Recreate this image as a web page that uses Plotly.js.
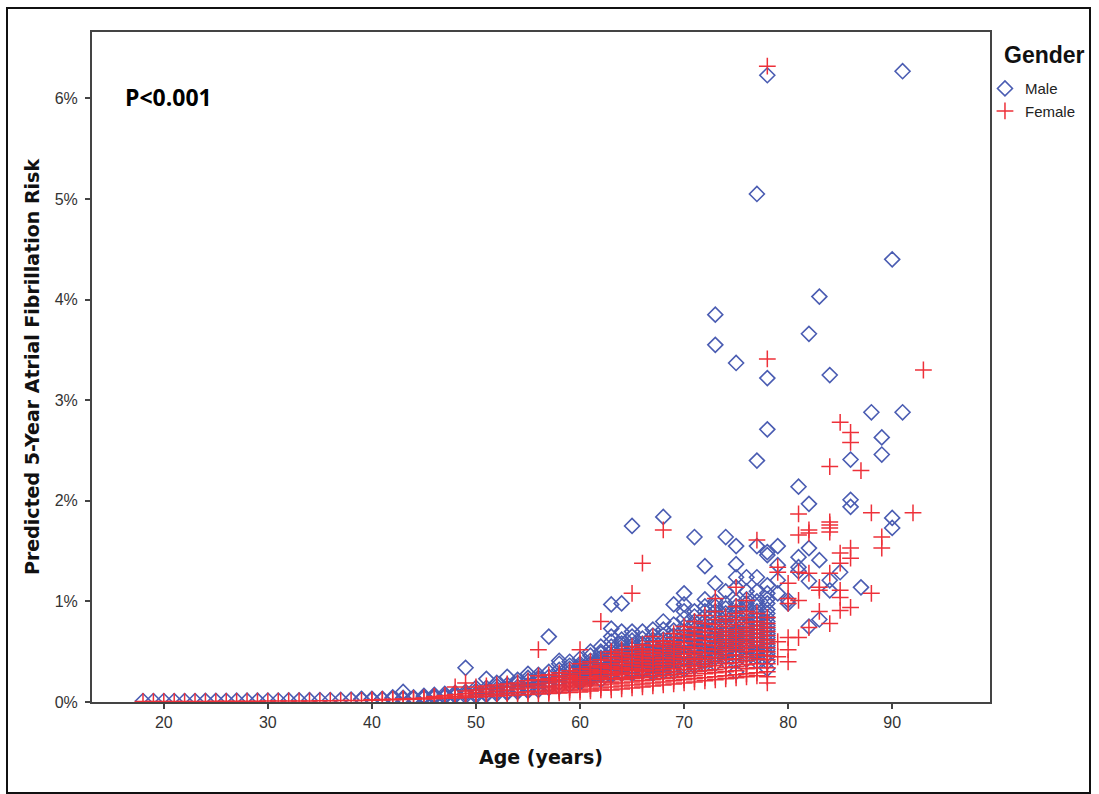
<!DOCTYPE html>
<html>
<head>
<meta charset="utf-8">
<script src="https://cdn.plot.ly/plotly-3.0.1.min.js"></script>
<style>
  html, body { margin: 0; padding: 0; background: #fff; }
  #chart { width: 1099px; height: 794px; }
  #frame { position: absolute; left: 6px; top: 7px; width: 1085px; height: 787px;
           border: 2px solid #111; box-sizing: border-box; pointer-events: none; }
</style>
</head>
<body>
<div id="chart"></div>
<div id="frame"></div>
<script>
// ---- Data (risk values in %) ----
const maleAges = [18,19,20,21,22,23,24,25,26,27,28,29,30,31,32,33,34,35,36,37,38,39,40,41,42,43,44,45,46,47,48,49,
  50,51,52,53,54,55,56,57,58,59,60,61,62,63,64,65,66,67,68,69,70,71,72,73,74,75,76,77,78,79,80,81,82,83,84,85,86,87,88,89,90,91];
const maleRisks = [
  [0.01],[0.01],[0.01],[0.01],[0.01],[0.01],[0.012],[0.012],[0.012],[0.013],[0.013],[0.014],[0.015],[0.015],[0.016],
  [0.017],[0.018],[0.02],[0.02],[0.022],[0.024],[0.026,0.03],[0.03,0.025],[0.032,0.027],[0.035,0.045],[0.1,0.04,0.03],
  [0.045,0.035],[0.05,0.04,0.06],[0.055,0.045,0.07],[0.06,0.05,0.08],[0.07,0.06,0.09],[0.34,0.08,0.06,0.1],
  [0.08,0.06,0.11,0.14],
  [0.23,0.08,0.11,0.14,0.07],
  [0.1,0.13,0.16,0.08,0.19],
  [0.25,0.1,0.14,0.17,0.09],
  [0.12,0.15,0.19,0.1,0.22],
  [0.28,0.13,0.17,0.21,0.11,0.24],
  [0.24,0.15,0.19,0.22,0.12,0.27],
  [0.65,0.17,0.21,0.25,0.14,0.3],
  [0.41,0.38,0.19,0.23,0.27,0.15,0.32],
  [0.4,0.36,0.21,0.25,0.3,0.17,0.33],
  [0.38,0.3,0.24,0.28,0.19,0.34,0.43,0.2,0.22,0.26,0.31,0.36],
  [0.46,0.36,0.29,0.22,0.32,0.41,0.25,0.24,0.27,0.34,0.38,0.5],
  [0.55,0.48,0.4,0.33,0.26,0.36,0.44,0.3,0.22,0.28,0.32,0.38,0.42,0.5],
  [0.97,0.73,0.6,0.5,0.42,0.36,0.3,0.26,0.46,0.28,0.33,0.39,0.44,0.55,0.65],
  [0.98,0.58,0.52,0.46,0.4,0.34,0.28,0.5,0.38,0.3,0.36,0.43,0.55,0.62,0.7],
  [1.75,0.7,0.61,0.53,0.45,0.38,0.32,0.28,0.56,0.42,0.3,0.35,0.4,0.48,0.65],
  [0.63,0.55,0.48,0.42,0.36,0.3,0.51,0.4,0.33,0.32,0.38,0.45,0.58,0.7],
  [0.66,0.58,0.5,0.45,0.38,0.32,0.28,0.55,0.42,0.35,0.3,0.36,0.4,0.48,0.62,0.72],
  [1.84,0.72,0.62,0.55,0.48,0.42,0.36,0.3,0.5,0.4,0.33,0.38,0.45,0.58,0.66,0.8],
  [0.97,0.77,0.71,0.62,0.55,0.48,0.42,0.36,0.3,0.52,0.45,0.33,0.4,0.5,0.58,0.66],
  [1.08,0.97,0.83,0.75,0.66,0.58,0.5,0.44,0.38,0.32,0.6,0.35,0.42,0.48,0.55,0.7,0.9],
  [1.64,0.9,0.8,0.72,0.64,0.56,0.5,0.44,0.38,0.62,0.35,0.42,0.48,0.54,0.6,0.68,0.76,0.85],
  [1.35,1.02,0.95,0.85,0.76,0.68,0.6,0.52,0.46,0.4,0.7,0.37,0.43,0.5,0.56,0.64,0.72,0.8,0.9],
  [3.85,3.55,1.18,1.0,0.9,0.8,0.72,0.64,0.56,0.5,0.44,0.75,0.38,0.47,0.53,0.6,0.68,0.85,0.95],
  [1.64,1.1,0.98,0.88,0.8,0.72,0.64,0.56,0.5,0.45,0.76,0.4,0.48,0.53,0.6,0.68,0.84,0.93],
  [3.37,1.55,1.37,1.24,1.14,1.0,0.9,0.8,0.72,0.64,0.56,0.48,0.7,0.3,0.4,0.45,0.52,0.6,0.68,0.76,0.85,0.95],
  [1.24,1.1,0.98,0.88,0.8,0.72,0.64,0.56,0.5,0.85,0.42,0.47,0.54,0.6,0.68,0.76,0.93,1.02],
  [5.05,2.4,1.55,1.24,1.1,1.0,0.9,0.82,0.74,0.66,0.58,0.5,0.45,0.4,0.48,0.54,0.62,0.7,0.78,0.86,0.95],
  [6.23,3.22,2.71,1.49,1.46,1.16,1.02,0.92,0.84,0.76,0.68,0.6,0.52,0.45,0.33,0.4,0.48,0.56,0.64,0.72,0.8,0.88,0.98,1.08],
  [1.55,1.36,1.21,1.08],
  [1.01,0.98],
  [2.14,1.44,1.34,1.3],
  [3.66,1.97,1.53,1.2,0.75],
  [4.03,1.41,0.82],
  [3.25,1.21,1.11],
  [1.29],
  [2.41,2.01,1.94],
  [1.14],
  [2.88],
  [2.63,2.46],
  [4.4,1.83,1.73],
  [6.27,2.88]
];

const femaleAges = [18,19,20,21,22,23,24,25,26,27,28,29,30,31,32,33,34,35,36,37,38,39,40,41,42,43,44,45,46,47,48,49,
  50,51,52,53,54,55,56,57,58,59,60,61,62,63,64,65,66,67,68,69,70,71,72,73,74,75,76,77,78,79,80,81,82,83,84,85,86,87,88,89,92,93];
const femaleRisks = [
  [0.005],[0.005],[0.005],[0.005],[0.006],[0.006],[0.006],[0.007],[0.007],[0.007],[0.008],[0.008],[0.009],[0.009],
  [0.01],[0.01],[0.011],[0.012],[0.013],[0.014],[0.015],[0.016],[0.018,0.022],[0.02,0.025],[0.022,0.028],[0.025,0.03],
  [0.027,0.035],[0.03,0.04],[0.033,0.045,0.055],[0.037,0.05,0.065],[0.15,0.04,0.055,0.075],[0.19,0.045,0.06,0.085,0.11],
  [0.05,0.07,0.095,0.12,0.15],
  [0.055,0.075,0.1,0.13,0.16],
  [0.06,0.08,0.11,0.14,0.17],
  [0.065,0.09,0.12,0.15,0.18],
  [0.07,0.095,0.13,0.16,0.19],
  [0.075,0.1,0.14,0.17,0.21],
  [0.52,0.08,0.11,0.15,0.18,0.22,0.26],
  [0.085,0.12,0.16,0.19,0.23,0.27,0.1,0.14,0.21],
  [0.09,0.13,0.17,0.2,0.24,0.29,0.11,0.15,0.22,0.26],
  [0.095,0.14,0.18,0.22,0.26,0.31,0.12,0.16,0.2,0.24,0.28],
  [0.52,0.1,0.15,0.19,0.23,0.28,0.33,0.38,0.12,0.17,0.21,0.25,0.3],
  [0.11,0.16,0.2,0.25,0.3,0.35,0.4,0.13,0.18,0.23,0.28,0.32],
  [0.8,0.12,0.17,0.22,0.26,0.31,0.36,0.42,0.14,0.2,0.24,0.29,0.34,0.38],
  [0.12,0.18,0.23,0.28,0.33,0.38,0.44,0.5,0.15,0.2,0.26,0.3,0.35,0.41,0.47],
  [0.13,0.19,0.24,0.29,0.34,0.4,0.46,0.52,0.16,0.22,0.27,0.32,0.37,0.43,0.49],
  [1.08,0.14,0.2,0.25,0.31,0.36,0.42,0.48,0.55,0.17,0.23,0.28,0.33,0.39,0.45,0.52],
  [1.38,0.15,0.21,0.27,0.32,0.38,0.44,0.5,0.57,0.18,0.24,0.3,0.35,0.41,0.47,0.53],
  [0.65,0.16,0.22,0.28,0.34,0.4,0.46,0.52,0.6,0.19,0.25,0.31,0.37,0.43,0.49,0.56],
  [1.71,0.61,0.17,0.23,0.29,0.35,0.41,0.48,0.55,0.2,0.26,0.32,0.38,0.44,0.51,0.58],
  [0.18,0.24,0.3,0.37,0.43,0.5,0.57,0.64,0.21,0.27,0.33,0.4,0.46,0.53,0.6,0.68],
  [0.19,0.25,0.32,0.38,0.45,0.52,0.59,0.67,0.75,0.22,0.28,0.35,0.42,0.48,0.55,0.63,0.71],
  [0.2,0.26,0.33,0.4,0.47,0.54,0.62,0.7,0.8,0.23,0.3,0.36,0.43,0.5,0.58,0.66,0.74],
  [0.21,0.28,0.35,0.42,0.49,0.57,0.65,0.73,0.86,0.24,0.31,0.38,0.45,0.53,0.61,0.69,0.78],
  [1.03,0.22,0.29,0.36,0.44,0.52,0.6,0.68,0.77,0.9,0.25,0.32,0.4,0.48,0.56,0.64,0.72,0.82],
  [0.23,0.3,0.38,0.46,0.54,0.62,0.7,0.8,0.26,0.34,0.42,0.5,0.58,0.66,0.75,0.85],
  [1.14,0.24,0.31,0.39,0.47,0.56,0.64,0.72,0.82,0.95,0.27,0.35,0.43,0.52,0.6,0.68,0.77,0.88],
  [1.01,0.25,0.33,0.41,0.5,0.58,0.66,0.74,0.84,0.28,0.37,0.45,0.54,0.62,0.7,0.79,0.9],
  [1.61,0.26,0.34,0.43,0.51,0.6,0.68,0.76,0.29,0.38,0.47,0.56,0.64,0.72,0.8,0.88],
  [6.32,3.41,0.19,0.3,0.38,0.46,0.54,0.62,0.7,0.78,0.25,0.34,0.42,0.5,0.58,0.66,0.74,0.84],
  [1.34,1.29,0.6,0.45],
  [1.18,1.03,0.98,0.64,0.52,0.4],
  [1.87,1.66,1.29,1.01,0.64],
  [1.71,1.68,1.28,0.74],
  [1.14,1.11,0.9],
  [2.34,1.79,1.76,1.73,1.69,1.28,0.78],
  [2.78,1.48,1.38,1.11,1.04,0.91],
  [2.68,2.58,1.53,1.43,0.94],
  [2.3],
  [1.88,1.08],
  [1.64,1.53],
  [1.88],
  [3.3]
];

const xTicks = [20,30,40,50,60,70,80,90];
const yTicks = [0,1,2,3,4,5,6];
const yTickText = ['0%','1%','2%','3%','4%','5%','6%'];

// ---- Flatten grouped values ----
function flatten(ages, groups) {
  const xs = [], ys = [];
  ages.forEach((a, i) => groups[i].forEach(v => { xs.push(a); ys.push(v); }));
  return {xs, ys};
}
const m = flatten(maleAges, maleRisks);
const f = flatten(femaleAges, femaleRisks);

const traces = [
  {
    type: 'scatter', mode: 'markers', name: 'Male',
    x: m.xs, y: m.ys,
    marker: { symbol: 'diamond-open', size: 11.5, color: '#4a5cb2', line: { width: 1.6, color: '#4a5cb2' } }
  },
  {
    type: 'scatter', mode: 'markers', name: 'Female',
    x: f.xs, y: f.ys,
    marker: { symbol: 'cross-thin-open', size: 12, color: '#ee3039', line: { width: 1.5, color: '#ee3039' } }
  }
];

const axisCommon = {
  showline: true, linecolor: '#444', linewidth: 2, mirror: true,
  ticks: 'outside', ticklen: 5, tickwidth: 2, tickcolor: '#444',
  showgrid: false, zeroline: false,
  tickfont: { family: 'Liberation Sans, Arial, sans-serif', size: 16, color: '#333' }
};

const layout = {
  width: 1099, height: 794,
  margin: { l: 92, r: 109, t: 32, b: 92, autoexpand: false },
  paper_bgcolor: '#fff', plot_bgcolor: '#fff',
  showlegend: true,
  xaxis: Object.assign({}, axisCommon, {
    range: [13.1, 99.4], tickvals: xTicks,
    title: { text: 'Age (years)', standoff: 20,
      font: { family: 'DejaVu Sans, sans-serif', size: 19, color: '#111', weight: 'bold' } }
  }),
  yaxis: Object.assign({}, axisCommon, {
    range: [0, 6.66], tickvals: yTicks, ticktext: yTickText, ticklabelstandoff: 4,
    title: { text: 'Predicted 5-Year Atrial Fibrillation Risk', standoff: 10,
      font: { family: 'DejaVu Sans, sans-serif', size: 19, color: '#111', weight: 'bold' } }
  }),
  legend: {
    x: 0.9944, xanchor: 'left', y: 0.94, yanchor: 'top',
    bgcolor: 'rgba(0,0,0,0)', borderwidth: 0,
    font: { family: 'Liberation Sans, Arial, sans-serif', size: 15, color: '#222' },
    itemwidth: 30, tracegroupgap: 0
  },
  annotations: [
    {
      xref: 'paper', yref: 'paper', x: 0.034, y: 0.903, xanchor: 'left', yanchor: 'middle',
      text: 'P<0.001', showarrow: false,
      font: { family: 'Open Sans, sans-serif', size: 23, color: '#000', weight: 'bold' }
    },
    {
      xref: 'paper', yref: 'paper', x: 1.0134, y: 0.9657, xanchor: 'left', yanchor: 'middle',
      text: 'Gender', showarrow: false,
      font: { family: 'Liberation Sans, Arial, sans-serif', size: 23, color: '#111', weight: 'bold' }
    }
  ]
};

Plotly.newPlot('chart', traces, layout, { displayModeBar: false, staticPlot: true });
</script>
</body>
</html>
